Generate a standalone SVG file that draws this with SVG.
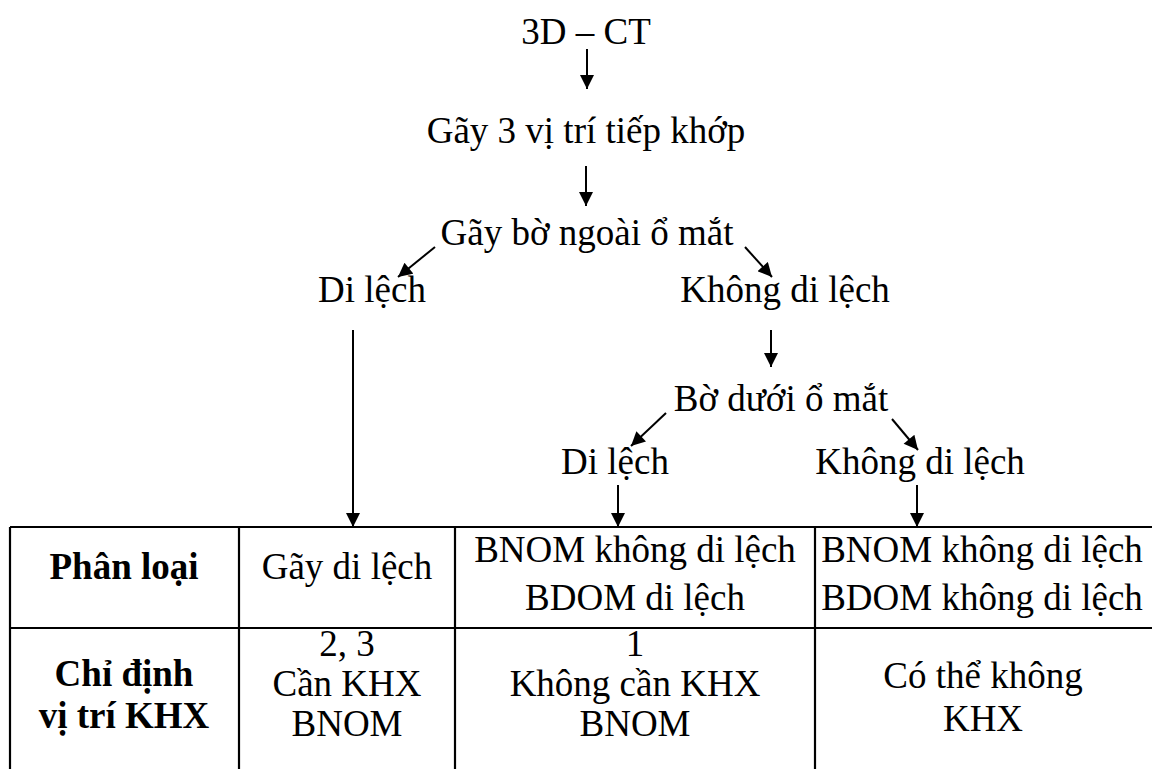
<svg xmlns="http://www.w3.org/2000/svg" width="1152" height="769" viewBox="0 0 1152 769">
<defs>
<style>
text{font-family:"Liberation Serif","Times New Roman",serif;font-size:37px;fill:#000;text-anchor:middle}
.b{font-weight:bold}
.c{stroke:#000;stroke-width:2;fill:none}
.t{stroke:#000;stroke-width:2.2;fill:none}
</style>
<marker id="ah" viewBox="0 0 10 10" refX="10" refY="5" markerWidth="15" markerHeight="14" markerUnits="userSpaceOnUse" orient="auto">
<path d="M0,0 L10,5 L0,10 z" fill="#000"/>
</marker>
</defs>
<rect width="1152" height="769" fill="#fff"/>
<g id="n-3dct"><text x="586" y="44">3D – CT</text></g>
<g id="n-gay3"><text x="586" y="143">Gãy 3 vị trí tiếp khớp</text></g>
<g id="n-bongoai"><text x="587" y="245">Gãy bờ ngoài ổ mắt</text></g>
<g id="n-dilech1"><text x="372" y="302">Di lệch</text></g>
<g id="n-khongdilech1"><text x="785" y="302">Không di lệch</text></g>
<g id="n-boduoi"><text x="781" y="411">Bờ dưới ổ mắt</text></g>
<g id="n-dilech2"><text x="615" y="474">Di lệch</text></g>
<g id="n-khongdilech2"><text x="920" y="474">Không di lệch</text></g>
<g id="connectors" class="c" marker-end="url(#ah)">
<line x1="587" y1="49" x2="587" y2="89"/>
<line x1="586" y1="166" x2="586" y2="206"/>
<line x1="435" y1="247" x2="398" y2="277"/>
<line x1="745" y1="247" x2="772" y2="277"/>
<line x1="353" y1="330" x2="353" y2="527"/>
<line x1="771" y1="330" x2="771" y2="367"/>
<line x1="666" y1="413" x2="631" y2="446"/>
<line x1="892" y1="419" x2="918" y2="450"/>
<line x1="618" y1="485" x2="618" y2="527"/>
<line x1="917" y1="485" x2="917" y2="527"/>
</g>
<g id="table">
<g class="t">
<line x1="10" y1="527" x2="1152" y2="527"/>
<line x1="10" y1="628" x2="1152" y2="628"/>
<line x1="10" y1="527" x2="10" y2="769"/>
<line x1="239" y1="527" x2="239" y2="769"/>
<line x1="455" y1="527" x2="455" y2="769"/>
<line x1="815" y1="527" x2="815" y2="769"/>
</g>
<g id="cell-phanloai"><text class="b" x="124" y="579">Phân loại</text></g>
<g id="cell-gaydilech"><text x="347" y="579">Gãy di lệch</text></g>
<g id="cell-c3r1"><text x="635" y="562">BNOM không di lệch</text><text x="635" y="610">BDOM di lệch</text></g>
<g id="cell-c4r1"><text x="982" y="562">BNOM không di lệch</text><text x="982" y="610">BDOM không di lệch</text></g>
<g id="cell-chidinh"><text class="b" x="124" y="686">Chỉ định</text><text class="b" x="124" y="728">vị trí KHX</text></g>
<g id="cell-c2r2"><text x="347" y="656">2, 3</text><text x="347" y="696">Cần KHX</text><text x="347" y="736">BNOM</text></g>
<g id="cell-c3r2"><text x="635" y="656">1</text><text x="635" y="696">Không cần KHX</text><text x="635" y="736">BNOM</text></g>
<g id="cell-c4r2"><text x="983" y="688">Có thể không</text><text x="983" y="731">KHX</text></g>
</g>
</svg>
